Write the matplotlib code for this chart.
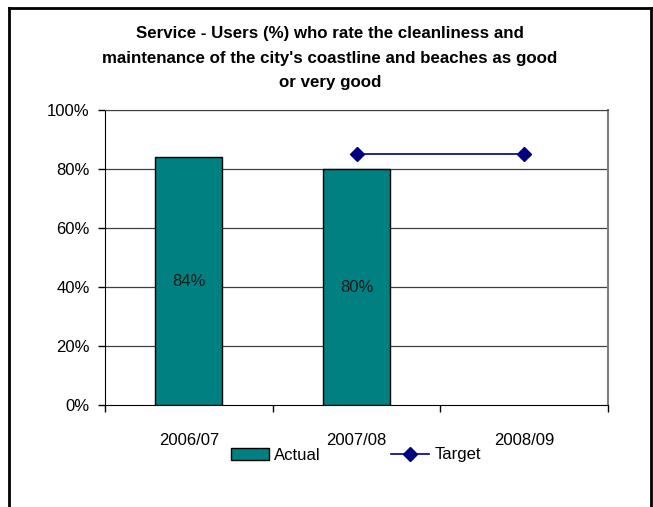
import matplotlib
matplotlib.use("Agg")
import matplotlib.pyplot as plt
from matplotlib.lines import Line2D
from matplotlib.patches import Patch
import numpy as np

categories = ["2006/07", "2007/08", "2008/09"]
actual = [84, 80, None]
target = [None, 85, 85]
yticks = [0, 20, 40, 60, 80, 100]
title = "Service - Users (%) who rate the cleanliness and\nmaintenance of the city's coastline and beaches as good\nor very good"

plt.rcParams['font.family'] = ['Liberation Sans Narrow', 'Liberation Sans', 'DejaVu Sans']

W, H = 653, 507
fig = plt.figure(figsize=(W/100, H/100), dpi=100)
ax = fig.add_axes([105/W, 1-405/H, (608-105)/W, (405-110)/H])

x = np.arange(len(categories))
bx = [i for i, v in enumerate(actual) if v is not None]
bv = [v for v in actual if v is not None]
bars = ax.bar(bx, bv, width=0.4, color="#008080", edgecolor="black", linewidth=1, zorder=3)
for xi, v in zip(bx, bv):
    ax.text(xi, v/2, f"{v}%", ha="center", va="center", fontsize=12, color="#1a1a1a", zorder=4)

tx = [i for i, v in enumerate(target) if v is not None]
tv = [v for v in target if v is not None]
ax.plot(tx, tv, color="#000080", marker="D", markersize=7, linewidth=1.2, zorder=5)

ax.set_xlim(-0.5, 2.5)
ax.set_ylim(0, 100)
ax.set_yticks(yticks)
ax.set_yticklabels([f"{t}%" for t in yticks], fontsize=12)
ax.set_xticks(x)
ax.set_xticklabels(categories, fontsize=12)
ax.set_xticks([-0.5, 0.5, 1.5, 2.5], minor=True)
ax.tick_params(axis="x", which="major", length=0, pad=20)
ax.tick_params(axis="x", which="minor", length=5, width=1, color="black")
ax.tick_params(axis="y", length=5, width=1, color="black", pad=6)
for yv in yticks[1:]:
    ax.axhline(yv, color="#404040", linewidth=0.9, zorder=1)
ax.spines["left"].set_color("black")
ax.spines["bottom"].set_color("black")
ax.spines["top"].set_color("#404040")
ax.spines["right"].set_color("#808080")
ax.spines["right"].set_linewidth(1.5)

fig.text(330/W, 1-58/H, title, ha="center", va="center", fontsize=12.2, fontweight="bold",
         linespacing=1.78)

handles = [Patch(facecolor="#008080", edgecolor="black", linewidth=1, label="Actual"),
           Line2D([0], [0], color="#000080", marker="D", markersize=7, linewidth=1.2, label="Target")]
fig.legend(handles=handles, loc="center", bbox_to_anchor=(356/W, 1-455/H), ncol=2, frameon=False,
           fontsize=12, handlelength=2.3, handletextpad=0.3, columnspacing=4.2, borderaxespad=0)

# outer frame (left, top, right)
fig.add_artist(Line2D([9/W, 9/W], [0, 1-8/H], transform=fig.transFigure, color="black", linewidth=2))
fig.add_artist(Line2D([9/W, 651/W], [1-8/H, 1-8/H], transform=fig.transFigure, color="black", linewidth=2))
fig.add_artist(Line2D([651/W, 651/W], [0, 1-8/H], transform=fig.transFigure, color="black", linewidth=2))

fig.savefig("out.png", dpi=100)
